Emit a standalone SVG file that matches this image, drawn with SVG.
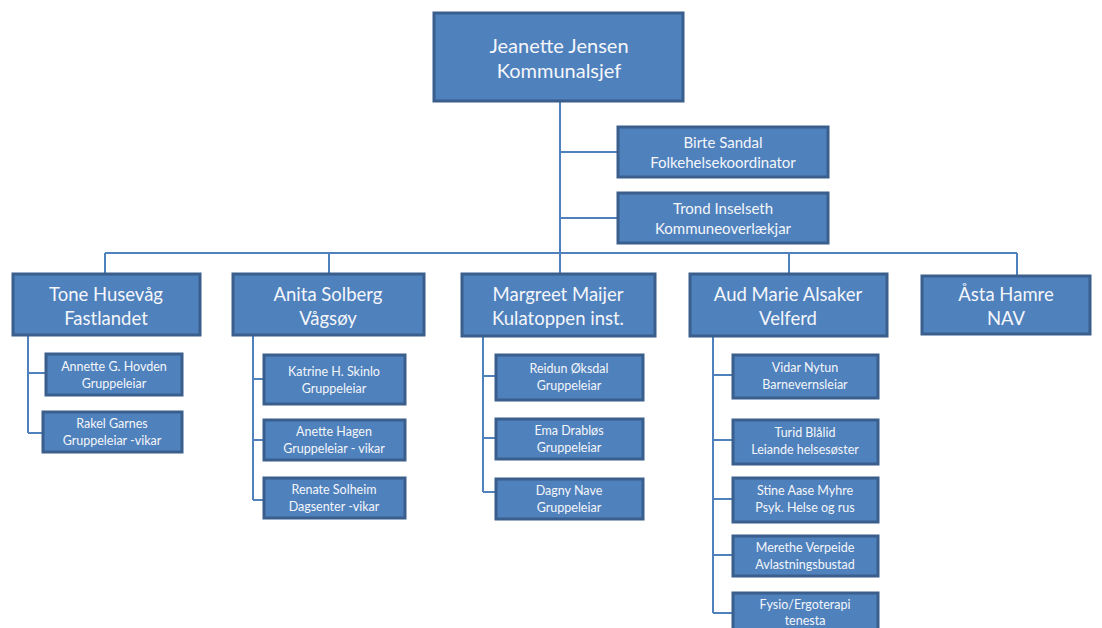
<svg xmlns="http://www.w3.org/2000/svg" width="1102" height="628" viewBox="0 0 1102 628">
<style>
.b{fill:#4f81bd;stroke:#3a5f8c;stroke-width:3}
.t{fill:#f4f6fa;font-family:Lato,"Liberation Sans",sans-serif;text-anchor:middle}
.t1{font-size:20px}
.t2{font-size:18.5px}
.t3{font-size:15px}
.t4{font-size:12.5px}
.c{fill:none;stroke:#4f81bd;stroke-width:2}
</style>
<rect width="1102" height="628" fill="#ffffff"/>
<g id="connectors">
<path class="c" d="M560 101V253M560 152H617M560 218H617M105 253H1017M105 253V274M329 253V274M560 253V274M789 253V274M1017 253V276"/>
<path class="c" d="M28 335V433M28 373H45M28 433H42"/>
<path class="c" d="M253 335V500M253 379H263M253 440H263M253 500H263"/>
<path class="c" d="M483 336V492M483 376H495M483 438H495M483 492H495"/>
<path class="c" d="M713 336V613M713 375H732M713 440H732M713 499H732M713 555H732M713 613H732"/>
</g>
<g id="n-jeanette"><rect class="b" x="434" y="13" width="249" height="88"/><text class="t t1" x="559" y="53">Jeanette Jensen</text><text class="t t1" x="559" y="78">Kommunalsjef</text></g>
<g id="n-birte"><rect class="b" x="618" y="127" width="210" height="50"/><text class="t t3" x="723" y="148">Birte Sandal</text><text class="t t3" x="723" y="168">Folkehelsekoordinator</text></g>
<g id="n-trond"><rect class="b" x="618" y="193" width="210" height="50"/><text class="t t3" x="723" y="214">Trond Inselseth</text><text class="t t3" x="723" y="234">Kommuneoverlækjar</text></g>
<g id="n-tone"><rect class="b" x="13" y="274" width="187" height="61"/><text class="t t2" x="106" y="301">Tone Husevåg</text><text class="t t2" x="106" y="325">Fastlandet</text></g>
<g id="n-anita"><rect class="b" x="233" y="274" width="191" height="61"/><text class="t t2" x="328" y="301">Anita Solberg</text><text class="t t2" x="328" y="325">Vågsøy</text></g>
<g id="n-margreet"><rect class="b" x="462" y="274" width="193" height="62"/><text class="t t2" x="558" y="301">Margreet Maijer</text><text class="t t2" x="558" y="325">Kulatoppen inst.</text></g>
<g id="n-aud"><rect class="b" x="690" y="274" width="197" height="62"/><text class="t t2" x="788" y="301">Aud Marie Alsaker</text><text class="t t2" x="788" y="325">Velferd</text></g>
<g id="n-asta"><rect class="b" x="922" y="276" width="168" height="58"/><text class="t t2" x="1006" y="301">Åsta Hamre</text><text class="t t2" x="1006" y="325">NAV</text></g>
<g id="n-annette"><rect class="b" x="46" y="354" width="136" height="41"/><text class="t t4" x="114" y="371">Annette G. Hovden</text><text class="t t4" x="114" y="388">Gruppeleiar</text></g>
<g id="n-rakel"><rect class="b" x="43" y="412" width="139" height="40"/><text class="t t4" x="112" y="428">Rakel Garnes</text><text class="t t4" x="112" y="445">Gruppeleiar -vikar</text></g>
<g id="n-katrine"><rect class="b" x="264" y="355" width="141" height="49"/><text class="t t4" x="334" y="376">Katrine H. Skinlo</text><text class="t t4" x="334" y="393">Gruppeleiar</text></g>
<g id="n-anette"><rect class="b" x="264" y="420" width="141" height="40"/><text class="t t4" x="334" y="436">Anette Hagen</text><text class="t t4" x="334" y="453">Gruppeleiar  - vikar</text></g>
<g id="n-renate"><rect class="b" x="264" y="478" width="141" height="40"/><text class="t t4" x="334" y="494">Renate Solheim</text><text class="t t4" x="334" y="511">Dagsenter -vikar</text></g>
<g id="n-reidun"><rect class="b" x="496" y="355" width="147" height="45"/><text class="t t4" x="569" y="373">Reidun Øksdal</text><text class="t t4" x="569" y="390">Gruppeleiar</text></g>
<g id="n-ema"><rect class="b" x="496" y="419" width="147" height="40"/><text class="t t4" x="569" y="435">Ema Drabløs</text><text class="t t4" x="569" y="452">Gruppeleiar</text></g>
<g id="n-dagny"><rect class="b" x="496" y="479" width="147" height="40"/><text class="t t4" x="569" y="495">Dagny Nave</text><text class="t t4" x="569" y="512">Gruppeleiar</text></g>
<g id="n-vidar"><rect class="b" x="733" y="355" width="145" height="43"/><text class="t t4" x="805" y="372">Vidar Nytun</text><text class="t t4" x="805" y="389">Barnevernsleiar</text></g>
<g id="n-turid"><rect class="b" x="733" y="420" width="145" height="44"/><text class="t t4" x="805" y="437">Turid Blålid</text><text class="t t4" x="805" y="454">Leiande helsesøster</text></g>
<g id="n-stine"><rect class="b" x="733" y="478" width="145" height="44"/><text class="t t4" x="805" y="495">Stine Aase Myhre</text><text class="t t4" x="805" y="512">Psyk. Helse og rus</text></g>
<g id="n-merethe"><rect class="b" x="733" y="536" width="145" height="40"/><text class="t t4" x="805" y="552">Merethe Verpeide</text><text class="t t4" x="805" y="569">Avlastningsbustad</text></g>
<g id="n-fysio"><rect class="b" x="733" y="593" width="145" height="40"/><text class="t t4" x="805" y="609">Fysio/Ergoterapi</text><text class="t t4" x="805" y="625">tenesta</text></g>
</svg>
